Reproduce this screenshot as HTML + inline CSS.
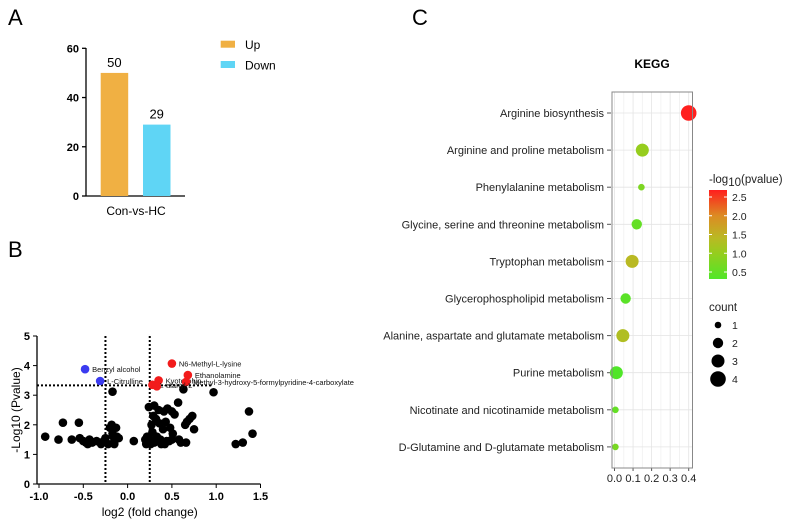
<!DOCTYPE html>
<html><head><meta charset="utf-8"><style>
body{margin:0;background:#fff;font-family:"Liberation Sans",Arial,sans-serif}
svg text{font-family:"Liberation Sans",Arial,sans-serif}
</style></head><body>
<svg id="fig" width="795" height="527" viewBox="0 0 795 527" xmlns="http://www.w3.org/2000/svg">
<rect width="795" height="527" fill="#fff"/>
<text x="8" y="25" font-size="22">A</text>
<text x="8" y="257" font-size="22">B</text>
<text x="412" y="25" font-size="22">C</text>
<g id="pa"></g>
<g id="pb"></g>
<g id="pc"></g>
</svg>
<script>
const NS="http://www.w3.org/2000/svg";
function mk(p,t,a,txt){const e=document.createElementNS(NS,t);for(const k in a)e.setAttribute(k,a[k]);if(txt!==undefined)e.textContent=txt;p.appendChild(e);return e;}

// ---- Panel A data
const barCats=["Up","Down"];
const barVals=[50,29];
const barColors=["#f0b043","#5fd5f5"];
const aTicks=[0,20,40,60];
// ---- Panel B data
const volX=[-0.93,-0.78,-0.73,-0.63,-0.55,-0.54,-0.5,-0.47,-0.45,-0.43,-0.4,-0.35,-0.3,-0.27,-0.25,-0.22,-0.2,-0.18,-0.17,-0.17,-0.16,-0.15,-0.15,-0.13,-0.12,-0.1,0.07,0.2,0.21,0.22,0.23,0.24,0.25,0.26,0.27,0.28,0.29,0.3,0.3,0.32,0.33,0.35,0.36,0.37,0.38,0.4,0.41,0.42,0.43,0.44,0.45,0.47,0.48,0.5,0.5,0.51,0.53,0.57,0.58,0.6,0.63,0.65,0.67,0.66,0.7,0.73,0.75,0.97,1.22,1.3,1.37,1.41];
const volY=[1.6,1.5,2.07,1.5,2.07,1.55,1.45,1.4,1.35,1.5,1.4,1.45,1.35,1.45,1.55,1.35,1.9,2.0,3.12,1.7,1.6,1.45,1.35,1.9,1.6,1.55,1.45,1.5,1.35,1.6,1.45,2.6,1.5,1.35,2.0,1.75,2.3,2.65,1.4,2.2,1.6,2.5,2.05,1.5,1.35,1.85,2.45,1.35,2.1,1.45,2.55,1.45,1.9,2.45,1.5,1.7,2.35,2.75,1.5,1.4,3.2,2.0,2.1,1.4,2.2,2.3,1.85,3.1,1.35,1.4,2.45,1.7];
const sigX=[0.5,0.68,0.35,0.66,0.28,0.33,-0.48,-0.31];
const sigY=[4.07,3.68,3.5,3.45,3.35,3.3,3.88,3.48];
const sigLabels=["N6-Methyl-L-lysine","Ethanolamine","Kyotorphin","Methyl-3-hydroxy-5-formylpyridine-4-carboxylate","L-alanyl-L-","","Benzyl alcohol","L-Citrulline"];
const sigDir=["up","up","up","up","up","up","down","down"];
const bXTicks=[-1.0,-0.5,0.0,0.5,1.0,1.5];
const bYTicks=[0,1,2,3,4,5];
// ---- Panel C data
const pathways=["Arginine biosynthesis","Arginine and proline metabolism","Phenylalanine metabolism","Glycine, serine and threonine metabolism","Tryptophan metabolism","Glycerophospholipid metabolism","Alanine, aspartate and glutamate metabolism","Purine metabolism","Nicotinate and nicotinamide metabolism","D-Glutamine and D-glutamate metabolism"];
const impact=[0.40,0.15,0.145,0.12,0.095,0.06,0.045,0.01,0.005,0.005];
const logp=[2.69,1.0,0.75,0.5,1.4,0.4,1.3,0.3,0.5,0.7];
const counts=[4,3,1,2,3,2,3,3,1,1];
const cTicks=[0.0,0.1,0.2,0.3,0.4];
const cbTicks=[0.5,1.0,1.5,2.0,2.5];
const countTicks=[1,2,3,4];

// ===== Panel A
(function(){
const g=document.getElementById('pa');
const y=v=>196-v*(196-48.3)/60;
mk(g,'line',{x1:86,y1:48,x2:86,y2:196,stroke:'#000','stroke-width':1.3});
mk(g,'line',{x1:86,y1:196,x2:185,y2:196,stroke:'#000','stroke-width':1.3});
aTicks.forEach(t=>{mk(g,'line',{x1:82,y1:y(t),x2:86,y2:y(t),stroke:'#000','stroke-width':1.3});
 const e=mk(g,'text',{x:79,y:y(t)+4,'font-size':11,'font-weight':'bold','text-anchor':'end'},t);});
const x0=[100.7,143];
barVals.forEach((v,i)=>{const r=mk(g,'rect',{x:x0[i],y:y(v),width:27.5,height:196-y(v),fill:barColors[i]});
 
 const t=mk(g,'text',{x:x0[i]+13.7,y:y(v)-6,'font-size':13,'text-anchor':'middle'},v);
 const s=mk(g,'rect',{x:220.7,y:40.7+i*20.3,width:14.3,height:7,fill:barColors[i]});
 const l=mk(g,'text',{x:245,y:49+i*20.3,'font-size':12},barCats[i]);});
const xl=mk(g,'text',{x:136,y:215,'font-size':12,'text-anchor':'middle'},'Con-vs-HC');
})();

// ===== Panel B
(function(){
const g=document.getElementById('pb');
const X=v=>39+(v+1)*88.6;const Y=v=>484-v*29.6;
mk(g,'line',{x1:37,y1:Y(5),x2:37,y2:484,stroke:'#000','stroke-width':1.3});
mk(g,'line',{x1:37,y1:484,x2:X(1.5),y2:484,stroke:'#000','stroke-width':1.3});
bYTicks.forEach(t=>{mk(g,'line',{x1:33,y1:Y(t),x2:37,y2:Y(t),stroke:'#000'});
 const e=mk(g,'text',{x:30,y:Y(t)+4,'font-size':11,'font-weight':'bold','text-anchor':'end'},t);});
bXTicks.forEach(t=>{mk(g,'line',{x1:X(t),y1:484,x2:X(t),y2:488,stroke:'#000'});
 const e=mk(g,'text',{x:X(t),y:500,'font-size':11,'font-weight':'bold','text-anchor':'middle'},t.toFixed(1));});
const dash={stroke:'#000','stroke-width':2,'stroke-dasharray':'2,2'};
mk(g,'line',Object.assign({x1:X(-0.25),y1:Y(5),x2:X(-0.25),y2:484},dash));
mk(g,'line',Object.assign({x1:X(0.25),y1:Y(5),x2:X(0.25),y2:484},dash));
mk(g,'line',Object.assign({x1:37,y1:Y(3.33),x2:X(0.95),y2:Y(3.33)},dash));
volX.forEach((v,i)=>{const c=mk(g,'circle',{cx:X(v),cy:Y(volY[i]),r:4.3,fill:'#000'});});
sigX.forEach((v,i)=>{const c=mk(g,'circle',{cx:X(v),cy:Y(sigY[i]),r:4.3,fill:sigDir[i]==='up'?'#f21b1b':'#3b3bf0'});
 if(sigLabels[i]){const t=mk(g,'text',{x:X(v)+7,y:Y(sigY[i])+3,'font-size':7.5,fill:'#111'},sigLabels[i]);}});
const yl=mk(g,'text',{x:20,y:Y(2.5),'font-size':12,'text-anchor':'middle',transform:'rotate(-90 20 '+Y(2.5)+')'},'-Log10 (Pvalue)');
const xl=mk(g,'text',{x:X(0.25),y:516,'font-size':12,'text-anchor':'middle'},'log2 (fold change)');
})();

// ===== Panel C
(function(){
const g=document.getElementById('pc');
const X=v=>614.5+v*185.5;const rowY=i=>113+i*37.1;
const cstops=[[0.3,[80,230,40]],[1.0,[150,205,30]],[1.4,[185,185,35]],[2.0,[220,140,35]],[2.7,[255,30,30]]];
function col(v){if(v<=cstops[0][0])return 'rgb('+cstops[0][1]+')';for(let k=1;k<cstops.length;k++){if(v<=cstops[k][0]){const a=cstops[k-1],b=cstops[k],f=(v-a[0])/(b[0]-a[0]);return 'rgb('+a[1].map((c,j)=>Math.round(c+(b[1][j]-c)*f)).join(',')+')';}}return 'rgb('+cstops[4][1]+')';}
const rad=c=>2+c*1.3+ (c>1?0.6:0);
mk(g,'rect',{x:612,y:92,width:80.5,height:376,fill:'#fff',stroke:'#888','stroke-width':1});
for(let v=0;v<=0.4001;v+=0.05){mk(g,'line',{x1:X(v),y1:92,x2:X(v),y2:468,stroke:Math.round(v*100)%10===0?'#e4e4e4':'#f0f0f0','stroke-width':0.8});}
pathways.forEach((p,i)=>{mk(g,'line',{x1:612,y1:rowY(i),x2:692,y2:rowY(i),stroke:'#e4e4e4','stroke-width':0.8});
 mk(g,'line',{x1:607,y1:rowY(i),x2:611,y2:rowY(i),stroke:'#555'});
 const t=mk(g,'text',{x:604,y:rowY(i)+4,'font-size':11,'text-anchor':'end',fill:'#222'},p);});
cTicks.forEach(t=>{mk(g,'line',{x1:X(t),y1:468,x2:X(t),y2:471,stroke:'#555'});
 const e=mk(g,'text',{x:X(t),y:482,'font-size':11,'text-anchor':'middle',fill:'#222'},t.toFixed(1));});
impact.forEach((v,i)=>{const c=mk(g,'circle',{cx:X(v),cy:rowY(i),r:rad(counts[i]),fill:col(logp[i])});});
mk(g,'rect',{x:612,y:92,width:80.5,height:376,fill:'none',stroke:'#888','stroke-width':1});
const tt=mk(g,'text',{x:652,y:68,'font-size':12,'font-weight':'bold','text-anchor':'middle'},'KEGG');
// colorbar
const defs=mk(g,'defs',{});const lg=mk(defs,'linearGradient',{id:'cb',x1:0,y1:1,x2:0,y2:0});
cstops.forEach(s=>{mk(lg,'stop',{offset:((s[0]-0.3)/2.4*100)+'%','stop-color':col(s[0])});});
const CY=v=>272-(v-0.5)*37.5;
const cb=mk(g,'rect',{x:709,y:190,width:18,height:89,fill:'url(#cb)'});
const ct=mk(g,'text',{x:709,y:183,'font-size':11.5,fill:'#222'});
ct.innerHTML='-log<tspan dy="3">10</tspan><tspan dy="-3">(pvalue)</tspan>';
cbTicks.forEach(t=>{mk(g,'line',{x1:709,y1:CY(t),x2:712,y2:CY(t),stroke:'#fff'});mk(g,'line',{x1:724,y1:CY(t),x2:727,y2:CY(t),stroke:'#fff'});
 const e=mk(g,'text',{x:732,y:CY(t)+4,'font-size':10.5,fill:'#222'},t.toFixed(1));});
const cl=mk(g,'text',{x:709,y:311,'font-size':11.5,fill:'#222'},'count');
countTicks.forEach((c,i)=>{const yy=325+i*18;const d=mk(g,'circle',{cx:718,cy:yy,r:rad(c),fill:'#000'});
 const e=mk(g,'text',{x:732,y:yy+4,'font-size':10.5,fill:'#222'},c);});
})();
</script>
</body></html>
